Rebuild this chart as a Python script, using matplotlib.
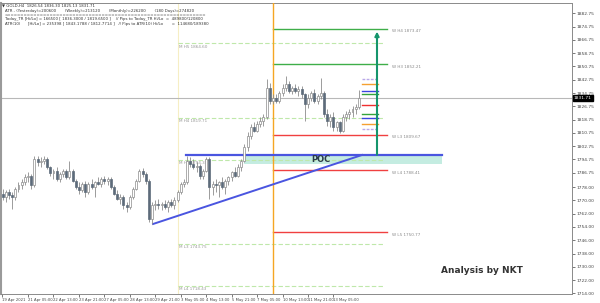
import matplotlib
matplotlib.use("Agg")
import matplotlib.pyplot as plt
import matplotlib.transforms as mtransforms

# H4 candles, GOLD
opens = [1774, 1772, 1775, 1773, 1772, 1777, 1779, 1781, 1784, 1785,
         1779, 1795, 1793, 1794, 1795, 1790, 1786.5, 1788, 1783, 1786,
         1788, 1784, 1788, 1782, 1778, 1776, 1780, 1775, 1780, 1778,
         1781, 1780, 1783, 1782, 1783, 1778, 1774, 1771, 1772, 1767,
         1766, 1772, 1777, 1782, 1788, 1786, 1782, 1759, 1767, 1768,
         1767, 1768, 1766, 1769, 1767, 1770, 1775, 1780, 1781, 1794,
         1792, 1790, 1791, 1785, 1788, 1795, 1778, 1780, 1779, 1781,
         1778, 1782, 1784, 1787, 1785, 1790, 1794, 1802, 1809, 1814,
         1812, 1816, 1818, 1820, 1838, 1830, 1832, 1830, 1835, 1838,
         1840, 1836, 1838, 1836, 1837, 1834, 1828, 1832, 1835, 1830,
         1833, 1835, 1822, 1818, 1820, 1814, 1817, 1812, 1820, 1822,
         1823, 1825, 1826.54]
highs = [1777, 1776, 1777, 1775, 1778, 1781, 1783, 1786, 1787, 1786,
         1797, 1797, 1796, 1797, 1796, 1791, 1789, 1790, 1787, 1789,
         1789, 1794, 1789, 1783, 1781, 1781, 1782, 1781, 1783, 1782,
         1784, 1784, 1785, 1784, 1784, 1779, 1776, 1774, 1773, 1769,
         1773, 1778, 1783, 1789, 1789.5, 1787, 1783, 1769, 1770, 1771,
         1769, 1770, 1770, 1771, 1772, 1776, 1781, 1783, 1797, 1796,
         1795, 1793, 1792, 1789, 1796, 1796, 1782, 1783, 1782, 1784,
         1783, 1785, 1788, 1790, 1792, 1795, 1804, 1811, 1816, 1817,
         1818, 1820, 1822, 1843, 1841, 1834, 1834, 1836, 1840, 1845,
         1842, 1839, 1840, 1839, 1839, 1835, 1834, 1836, 1837, 1834,
         1844, 1836, 1825, 1822, 1823, 1818, 1818, 1822, 1824, 1825,
         1827, 1828, 1836.30]
lows = [1770, 1769, 1771, 1765, 1770, 1775, 1777, 1779, 1781, 1777,
        1778, 1791, 1790, 1792, 1789, 1785, 1783, 1782, 1781, 1784,
        1783, 1783, 1781, 1777, 1774, 1775, 1772, 1774, 1777, 1772,
        1779, 1778, 1780, 1779, 1777, 1773, 1770, 1768, 1765, 1763,
        1765, 1771, 1776, 1781, 1784, 1780, 1757, 1756, 1764, 1765,
        1764, 1765, 1763, 1766, 1765, 1769, 1774, 1778, 1780, 1790,
        1789, 1787, 1783, 1783, 1787, 1771, 1773, 1775, 1772, 1777,
        1774, 1779, 1782, 1784, 1784, 1788, 1793, 1800, 1807, 1811,
        1811, 1814, 1815, 1819, 1828, 1828, 1829, 1829, 1833, 1836,
        1835, 1834, 1835, 1833, 1832, 1818, 1826, 1830, 1829, 1828,
        1831, 1820, 1815, 1814, 1812, 1812, 1810.5, 1811, 1818, 1819,
        1820, 1822, 1825.13]
closes = [1772, 1775, 1773, 1772, 1777, 1779, 1781, 1784, 1785, 1779,
          1795, 1793, 1794, 1795, 1790, 1786.5, 1788, 1783, 1786, 1788,
          1784, 1788, 1782, 1778, 1776, 1780, 1775, 1780, 1778, 1781,
          1780, 1783, 1782, 1783, 1778, 1774, 1771, 1772, 1767, 1766,
          1772, 1777, 1782, 1788, 1786, 1782, 1759, 1767, 1768, 1767,
          1768, 1766, 1769, 1767, 1770, 1775, 1780, 1781, 1794, 1792,
          1790, 1791, 1785, 1788, 1795, 1778, 1780, 1779, 1781, 1778,
          1782, 1784, 1787, 1785, 1790, 1794, 1802, 1809, 1814, 1812,
          1816, 1818, 1820, 1838, 1830, 1832, 1830, 1835, 1838, 1840,
          1836, 1838, 1836, 1837, 1834, 1828, 1832, 1835, 1830, 1833,
          1835, 1822, 1818, 1820, 1814, 1817, 1812, 1820, 1822, 1823,
          1825, 1826.5, 1831.71]

xtick_pos = [-0.3, 8, 16, 24, 32, 40, 48, 56, 64, 72, 80, 88, 96, 104]
xtick_lab = ["19 Apr 2021", "21 Apr 05:00", "22 Apr 13:00", "23 Apr 21:00",
             "27 Apr 05:00", "28 Apr 13:00", "29 Apr 21:00", "3 May 05:00",
             "4 May 13:00", "5 May 21:00", "7 May 05:00", "10 May 13:00",
             "11 May 21:00", "13 May 05:00"]
yticks = [1882.75, 1874.75, 1866.75, 1858.75, 1850.75, 1842.75, 1834.75,
          1826.75, 1818.75, 1810.75, 1802.75, 1794.75, 1786.75, 1778.00,
          1770.00, 1762.00, 1754.00, 1746.00, 1738.00, 1730.00, 1722.00,
          1714.00]

# weekly / monthly camarilla levels
w_names = ["H4", "H3", "L3", "L4", "L5"]
w_values = [1873.47, 1852.21, 1809.67, 1788.41, 1750.77]
m_names = ["H5", "H4", "H3", "L3", "L4"]
m_values = [1864.60, 1819.71, 1794.39, 1743.75, 1718.43]
# daily pivot stubs
d_values = [1843.1, 1840.1, 1835.9, 1834.1, 1827.5, 1822.1, 1819.6, 1816.0, 1813.0]

current = 1831.71
month_start = 55
week_start = 85
w_end = 121
m_end = 120
poc_price = 1797.5
poc_low = 1792.0
trend_x = [47.3, 113]
trend_y = [1755.8, 1797.4]
target = 1871.8

fig = plt.figure(figsize=(6, 3.03), dpi=100)
ax = fig.add_axes([1 / 600, 1 - 294 / 303, 571 / 600, 291 / 303])
ax.set_xlim(-0.5, 179)
ax.set_ylim(1713.6, 1889.0)

# vertical separators
ax.axvline(month_start, color="#f6eec4", lw=0.8, zorder=1)
ax.axvline(week_start, color="#f5a623", lw=1.0, zorder=4)
ax.axhline(current, color="#b8b8b8", lw=0.8, zorder=1)

# POC zone
ax.fill_between([76, 138], poc_low, poc_price, color="#c4ece1", lw=0, zorder=1)
ax.plot([57.7, 138], [poc_price, poc_price], color="#4a55e0", lw=1.6, zorder=5)
ax.text(100, (poc_price + poc_low) / 2 - 0.3, "POC", fontsize=6, fontweight="bold",
        color="#2b3a4a", ha="center", va="center", zorder=6)

# monthly levels
for n, v in zip(m_names, m_values):
    ax.plot([month_start, m_end], [v, v], color="#bfe8aa", lw=0.8, ls=(0, (4, 2)), zorder=1)
    ax.text(month_start + 0.4, v - 1.9, "M %s %.2f" % (n, v), fontsize=3, color="#999999",
            va="center", ha="left", zorder=2)

# weekly levels
for n, v in zip(w_names, w_values):
    col = "#3fae49" if n.startswith("H") else "#f04040"
    ax.plot([week_start, w_end], [v, v], color=col, lw=1.0, zorder=3)
    ax.text(w_end + 1.3, v - 1.6, "W %s %.2f" % (n, v), fontsize=3, color="#8a8a8a",
            va="center", ha="left")

d_colors = ["#b9a8e8", "#f5a030", "#3a44e0", "#36a43c", "#f03030",
            "#36a43c", "#3a44e0", "#f5a030", "#b9a8e8"]
d_styles = [(0, (2, 1)), "-", "-", "-", "-", "-", "-", "-", (0, (2, 1))]
for v, c, s in zip(d_values, d_colors, d_styles):
    ax.plot([113, 118], [v, v], color=c, lw=1.0, ls=s, zorder=3)

# trend line
ax.plot(trend_x, trend_y, color="#4a55e0", lw=1.4, zorder=5)

# candles
for i in range(len(opens)):
    o, h, l, c = opens[i], highs[i], lows[i], closes[i]
    ax.vlines(i, l, h, color="#8c8c8c", lw=0.6, zorder=6)
    if c >= o:
        ax.bar(i, max(c - o, 0.3), bottom=o, width=0.62, color="white",
               edgecolor="#8c8c8c", lw=0.5, zorder=7)
    else:
        ax.bar(i, o - c, bottom=c, width=0.62, color="#5d6b7a",
               edgecolor="#5d6b7a", lw=0.5, zorder=7)

# target arrow
ax.annotate("", xy=(117.7, target), xytext=(117.7, poc_price),
            arrowprops=dict(arrowstyle="-|>", color="#15956c", lw=1.5,
                            mutation_scale=6, shrinkA=0, shrinkB=0), zorder=8)

# axes styling
ax.yaxis.tick_right()
ax.set_yticks(yticks)
ax.set_yticklabels(["%.2f" % v for v in yticks])
ax.set_xticks(xtick_pos)
ax.set_xticklabels(xtick_lab, ha="left")
ax.tick_params(axis="y", labelsize=3.2, length=2, width=0.5, pad=1.5,
               colors="#444444")
ax.tick_params(axis="x", labelsize=2.7, length=2, width=0.5, pad=1,
               colors="#444444")
for side in ["top", "right", "bottom"]:
    ax.spines[side].set_color("#8a8a8a")
    ax.spines[side].set_linewidth(0.7)
ax.spines["left"].set_color("#9a9a9a")
ax.spines["left"].set_linewidth(1.5)

trans = mtransforms.blended_transform_factory(ax.transAxes, ax.transData)
ax.text(1.003, current, "%.2f" % current, transform=trans, fontsize=3.2, color="white",
        va="center", ha="left",
        bbox=dict(boxstyle="square,pad=0.25", fc="black", ec="black"))

ax.text(0.843, 0.082, "Analysis by NKT", transform=ax.transAxes, fontsize=6.5,
        fontweight="semibold", color="#333333", ha="center", va="center")

# header text
def px(x, y):
    return x / 600, 1 - y / 303

hdr = [
    (2.5, 5.3, "\u25bc GOLD,H4  1826.54 1836.30 1825.13 1831.71"),
    (5, 10.7, "ATR - (Yesterday)=200600       (Weekly)=213120       (Monthly)=226200       (180 Days)=274820"),
    (5, 15, "=" * 62),
    (5, 19.3, "Today_TR [Hi/Lo] = 166500 [ 1836.3000 / 1819.6500 ]    // Pips to Today_TR Hi/Lo  =  489800/120800"),
    (5, 24, "ATR(10)      [Hi/Lo] = 235398 [ 1843.1788 / 1812.7714 ]   // Pips to ATR(10) Hi/Lo       =  114680/189380"),
]
for x, y, s in hdr:
    fx, fy = px(x, y)
    fig.text(fx, fy, s, fontsize=2.8, color="#333333", ha="left", va="center")

fig.savefig("out.png", dpi=100)
